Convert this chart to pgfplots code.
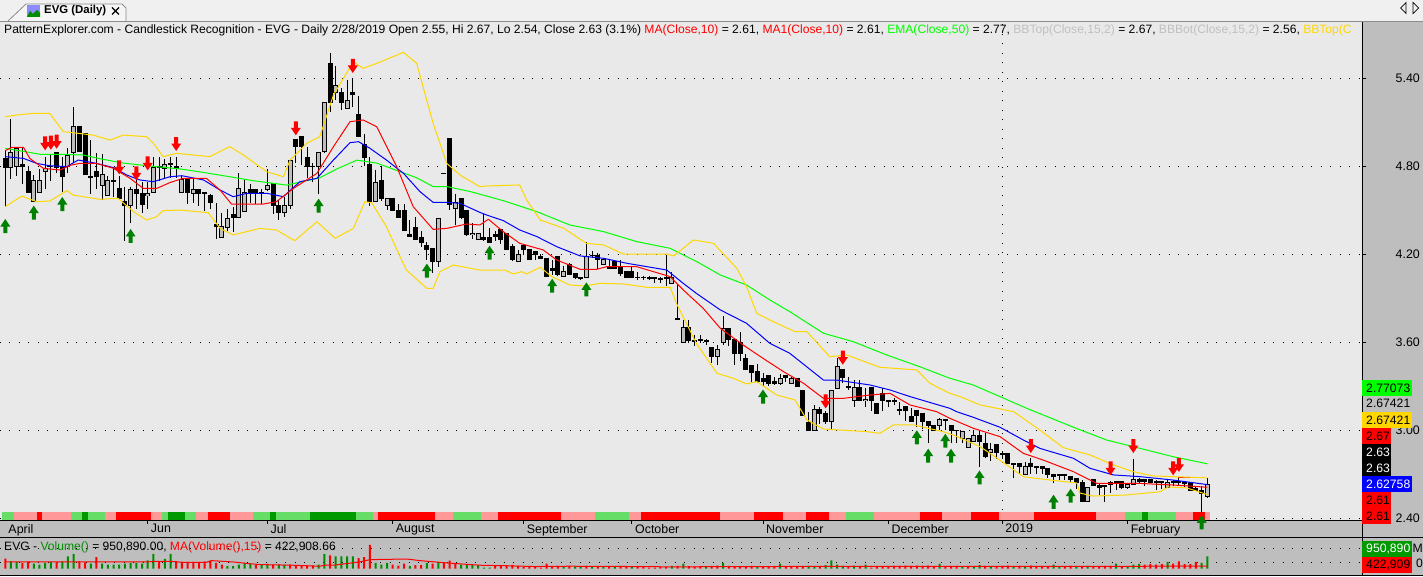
\documentclass[border=0pt]{standalone}
\usepackage{fontspec}
\setmainfont{Liberation Sans}
\usepackage{pgfplots}
\usepackage{pgfplotstable}
\pgfplotsset{compat=1.18}
\usetikzlibrary{calc}

\definecolor{chartbg}{RGB}{233,233,233}
\definecolor{panelbg}{RGB}{190,190,190}
\definecolor{topbg}{RGB}{240,240,240}
\definecolor{gold}{RGB}{255,215,0}
\definecolor{lime}{RGB}{0,255,0}
\definecolor{bandlg}{RGB}{102,221,102}
\definecolor{banddg}{RGB}{0,153,0}
\definecolor{bandpk}{RGB}{255,153,153}
\definecolor{arrowgreen}{RGB}{0,128,0}
\definecolor{volgreen}{RGB}{0,140,0}
\definecolor{bbgrey}{RGB}{192,192,192}

% 1 px of the reference = 1pt here
\pgfdeclareplotmark{uparr}{%
  \pgfpathmoveto{\pgfqpoint{0pt}{7pt}}\pgfpathlineto{\pgfqpoint{5pt}{-0.5pt}}%
  \pgfpathlineto{\pgfqpoint{2pt}{-0.5pt}}\pgfpathlineto{\pgfqpoint{2pt}{-7pt}}%
  \pgfpathlineto{\pgfqpoint{-2pt}{-7pt}}\pgfpathlineto{\pgfqpoint{-2pt}{-0.5pt}}%
  \pgfpathlineto{\pgfqpoint{-5pt}{-0.5pt}}\pgfpathclose\pgfusepathqfill}
\pgfdeclareplotmark{downarr}{%
  \pgfpathmoveto{\pgfqpoint{0pt}{-7pt}}\pgfpathlineto{\pgfqpoint{5pt}{0.5pt}}%
  \pgfpathlineto{\pgfqpoint{2pt}{0.5pt}}\pgfpathlineto{\pgfqpoint{2pt}{7pt}}%
  \pgfpathlineto{\pgfqpoint{-2pt}{7pt}}\pgfpathlineto{\pgfqpoint{-2pt}{0.5pt}}%
  \pgfpathlineto{\pgfqpoint{-5pt}{0.5pt}}\pgfpathclose\pgfusepathqfill}

% down days (black)
\pgfplotstableread{
x o h l c
0 4.85 4.91 4.52 4.79
3 4.81 4.92 4.68 4.80
4 4.76 4.80 4.62 4.62
8 4.80 4.88 4.70 4.80
9 4.89 4.89 4.75 4.79
10 4.80 4.86 4.62 4.73
13 5.07 5.07 4.90 4.90
14 5.02 5.02 4.74 4.74
15 4.73 4.98 4.61 4.72
16 4.76 4.89 4.64 4.73
19 4.70 4.78 4.59 4.70
20 4.65 4.73 4.58 4.58
21 4.56 4.66 4.29 4.53
23 4.64 4.73 4.51 4.61
24 4.61 4.69 4.48 4.54
27 4.80 4.86 4.70 4.79
29 4.82 4.86 4.72 4.81
30 4.80 4.86 4.72 4.78
32 4.71 4.71 4.54 4.62
34 4.64 4.64 4.53 4.61
35 4.62 4.62 4.49 4.61
36 4.60 4.61 4.51 4.55
37 4.40 4.55 4.30 4.39
40 4.47 4.52 4.35 4.45
43 4.64 4.68 4.55 4.62
44 4.64 4.64 4.54 4.62
45 4.62 4.64 4.54 4.61
47 4.68 4.68 4.47 4.53
48 4.53 4.57 4.43 4.48
51 4.98 4.98 4.82 4.93
52 5.00 5.00 4.81 4.93
53 4.86 4.93 4.72 4.80
54 4.80 4.82 4.69 4.80
57 5.50 5.57 5.17 5.23
59 5.30 5.33 5.18 5.23
61 5.30 5.39 5.20 5.29
62 5.15 5.28 5.00 5.00
63 4.95 5.02 4.80 4.86
64 4.81 4.86 4.53 4.56
66 4.70 4.80 4.56 4.58
68 4.58 4.58 4.50 4.50
69 4.50 4.54 4.45 4.45
70 4.50 4.54 4.36 4.36
71 4.33 4.43 4.32 4.32
72 4.38 4.45 4.30 4.30
73 4.31 4.36 4.25 4.28
74 4.26 4.28 4.16 4.23
75 4.24 4.24 4.07 4.15
77 4.75 4.75 4.75 4.75
78 4.99 4.99 4.50 4.54
80 4.58 4.58 4.44 4.45
81 4.50 4.50 4.32 4.33
84 4.31 4.47 4.29 4.30
85 4.31 4.38 4.28 4.28
86 4.33 4.36 4.29 4.32
87 4.37 4.37 4.27 4.30
88 4.34 4.34 4.23 4.23
89 4.25 4.27 4.15 4.16
91 4.26 4.26 4.20 4.23
92 4.23 4.23 4.16 4.16
93 4.22 4.22 4.16 4.20
94 4.18 4.20 4.17 4.17
95 4.17 4.17 4.05 4.05
96 4.10 4.16 4.06 4.09
97 4.18 4.18 4.05 4.06
99 4.13 4.14 4.06 4.06
100 4.07 4.07 4.03 4.04
101 4.04 4.04 4.02 4.03
103 4.19 4.22 4.17 4.19
104 4.19 4.21 4.10 4.16
106 4.11 4.16 4.10 4.10
107 4.15 4.15 4.10 4.10
108 4.11 4.16 4.05 4.07
109 4.08 4.08 4.04 4.04
110 4.08 4.12 4.04 4.04
111 4.04 4.08 4.02 4.04
112 4.04 4.05 4.02 4.04
113 4.04 4.05 4.02 4.03
114 4.04 4.04 4.00 4.03
115 4.03 4.04 4.00 4.03
116 4.04 4.19 3.98 4.03
118 3.76 3.99 3.76 3.76
120 3.70 3.75 3.59 3.61
121 3.61 3.65 3.57 3.61
122 3.62 3.65 3.59 3.61
123 3.61 3.62 3.58 3.61
124 3.56 3.56 3.46 3.50
127 3.69 3.69 3.57 3.62
128 3.62 3.62 3.44 3.52
129 3.60 3.67 3.47 3.52
130 3.49 3.52 3.41 3.41
131 3.44 3.44 3.33 3.39
132 3.40 3.45 3.32 3.33
133 3.35 3.39 3.30 3.33
134 3.37 3.37 3.30 3.32
135 3.33 3.36 3.31 3.32
137 3.37 3.37 3.33 3.36
139 3.35 3.35 3.30 3.30
140 3.27 3.27 3.10 3.10
141 3.05 3.12 3.00 3.00
143 3.14 3.16 3.04 3.11
144 3.11 3.13 3.04 3.06
147 3.41 3.41 3.32 3.36
148 3.30 3.36 3.27 3.29
150 3.29 3.34 3.20 3.20
152 3.29 3.29 3.13 3.20
153 3.18 3.18 3.11 3.11
154 3.25 3.29 3.13 3.20
155 3.20 3.20 3.16 3.20
156 3.20 3.22 3.17 3.20
157 3.14 3.19 3.10 3.13
158 3.16 3.16 3.06 3.13
159 3.09 3.15 3.06 3.06
160 3.13 3.13 3.02 3.10
161 3.11 3.11 3.01 3.06
162 3.06 3.06 2.91 3.03
163 3.03 3.03 3.00 3.00
165 3.07 3.07 3.00 3.07
166 3.03 3.03 2.91 3.00
167 3.00 3.00 2.91 3.00
171 2.96 3.00 2.75 2.92
172 2.91 2.98 2.81 2.82
174 2.90 2.90 2.80 2.85
175 2.84 2.86 2.80 2.83
176 2.84 2.84 2.77 2.77
177 2.77 2.77 2.67 2.77
178 2.77 2.77 2.70 2.75
180 2.77 2.81 2.70 2.75
181 2.75 2.75 2.70 2.75
182 2.75 2.75 2.70 2.74
183 2.74 2.74 2.67 2.70
184 2.70 2.70 2.64 2.68
185 2.70 2.70 2.66 2.69
186 2.70 2.70 2.66 2.69
187 2.68 2.68 2.64 2.66
188 2.67 2.67 2.60 2.64
189 2.64 2.66 2.51 2.51
191 2.66 2.66 2.62 2.62
192 2.62 2.64 2.56 2.61
193 2.62 2.62 2.51 2.62
194 2.64 2.65 2.57 2.63
195 2.65 2.65 2.59 2.64
196 2.65 2.65 2.60 2.61
199 2.66 2.67 2.64 2.65
200 2.66 2.66 2.62 2.65
201 2.66 2.66 2.64 2.64
202 2.65 2.66 2.59 2.64
203 2.65 2.65 2.60 2.64
205 2.65 2.66 2.62 2.64
206 2.65 2.68 2.62 2.64
207 2.64 2.65 2.61 2.64
208 2.64 2.64 2.59 2.59
209 2.60 2.62 2.59 2.59
210 2.59 2.62 2.44 2.57
}\downdays

% up days (grey)
\pgfplotstableread{
x o h l c
1 4.79 5.12 4.71 4.89
2 4.80 4.92 4.73 4.92
5 4.56 4.74 4.56 4.70
6 4.62 4.78 4.62 4.70
7 4.76 4.86 4.64 4.78
11 4.80 4.92 4.75 4.87
12 4.89 5.20 4.82 5.07
17 4.67 4.88 4.57 4.74
18 4.60 4.73 4.60 4.70
22 4.53 4.66 4.41 4.64
25 4.60 4.69 4.51 4.61
26 4.62 4.86 4.62 4.79
28 4.78 4.85 4.72 4.81
31 4.62 4.73 4.62 4.71
33 4.61 4.72 4.55 4.64
38 4.31 4.48 4.31 4.39
39 4.38 4.51 4.36 4.44
41 4.45 4.75 4.45 4.65
42 4.49 4.71 4.49 4.62
46 4.64 4.78 4.63 4.67
49 4.48 4.59 4.45 4.53
50 4.53 4.84 4.51 4.84
55 4.80 4.89 4.61 4.89
56 4.90 5.23 4.89 5.23
58 5.30 5.48 5.25 5.35
60 5.19 5.39 5.19 5.25
65 4.56 4.77 4.56 4.69
67 4.53 4.58 4.50 4.58
76 4.15 4.44 4.11 4.44
79 4.51 4.61 4.40 4.55
82 4.33 4.41 4.30 4.34
83 4.30 4.34 4.30 4.34
90 4.15 4.23 4.15 4.20
98 4.05 4.12 4.05 4.08
102 4.04 4.28 4.04 4.18
105 4.13 4.17 4.13 4.16
117 4.00 4.08 4.00 4.04
119 3.60 3.75 3.60 3.70
125 3.50 3.58 3.44 3.55
126 3.60 3.78 3.58 3.69
136 3.32 3.38 3.31 3.35
138 3.32 3.36 3.32 3.35
142 3.00 3.17 3.00 3.14
145 3.06 3.27 3.01 3.27
146 3.28 3.49 3.28 3.43
149 3.20 3.34 3.16 3.29
151 3.20 3.29 3.16 3.21
164 3.03 3.08 3.00 3.07
168 2.94 2.99 2.91 2.99
169 2.88 2.94 2.88 2.94
170 2.92 3.00 2.92 2.96
173 2.85 2.91 2.79 2.87
179 2.70 2.78 2.70 2.75
190 2.51 2.61 2.51 2.61
197 2.61 2.64 2.60 2.63
198 2.63 2.80 2.63 2.66
204 2.61 2.66 2.61 2.64
211 2.55 2.67 2.54 2.63
}\updays

% volume, thousands of shares
\pgfplotstableread{
x v
1 685
2 650
5 561
6 507
7 596
8 650
10 685
11 952
12 1095
15 561
17 561
18 507
19 507
20 507
21 561
22 596
23 596
24 561
25 739
26 1095
28 810
29 1095
39 418
40 418
41 507
42 596
43 561
45 525
46 543
48 507
49 507
55 507
56 1095
58 952
59 952
60 952
61 952
65 596
66 507
67 596
71 418
74 596
76 650
80 507
81 472
82 472
83 472
84 347
85 347
98 418
100 400
101 400
103 383
105 365
107 418
110 365
117 436
119 561
123 418
126 596
132 400
136 561
141 436
142 400
144 472
145 739
146 507
147 436
149 454
151 507
164 543
168 418
170 418
171 472
173 400
177 400
179 418
184 507
185 418
188 418
190 436
195 561
197 400
198 507
199 543
204 650
210 596
211 950.89
}\volup
\pgfplotstableread{
x v
0 828
3 596
4 650
9 632
13 685
14 632
16 917
27 685
30 685
31 650
32 650
33 650
34 650
35 685
36 721
37 596
38 507
44 507
47 507
50 507
51 454
52 454
53 454
54 454
57 1006
62 863
63 917
64 1575
68 507
69 454
70 561
72 472
73 472
75 561
77 596
78 721
79 543
86 418
87 454
88 472
89 490
90 436
91 383
92 383
93 365
94 347
95 561
96 400
97 436
99 418
102 436
104 383
106 400
108 400
109 400
111 383
112 365
113 347
114 347
115 383
116 383
118 436
120 418
121 400
122 400
124 436
125 454
127 436
128 400
129 418
130 400
131 436
133 400
134 418
135 436
137 365
138 400
139 418
140 400
143 365
148 418
150 418
152 347
153 365
154 400
155 418
156 436
157 436
158 454
159 436
160 454
161 436
162 454
163 418
165 418
166 436
167 436
169 436
172 436
174 418
175 436
176 454
178 436
180 454
181 418
182 436
183 418
186 418
187 436
189 400
191 418
192 418
193 436
194 436
196 418
200 507
201 525
202 507
203 525
205 561
206 685
207 525
208 525
209 650
}\voldown

% colour band, runs of bars
\pgfplotstableread{
a b
-0.5 1.5
11.5 13.5
14.5 17.5
27.5 28.5
31.5 33.5
43.5 46.5
47.5 53.5
61.5 64.5
78.5 83.5
103.5 109.5
147.5 152.5
196.5 199.5
200.5 205.5
}\bandlight
\pgfplotstableread{
a b
13.5 14.5
28.5 31.5
46.5 47.5
53.5 61.5
199.5 200.5
}\banddark
\pgfplotstableread{
a b
1.5 5.5
6.5 11.5
17.5 19.5
25.5 27.5
33.5 35.5
39.5 43.5
64.5 65.5
75.5 78.5
83.5 86.5
97.5 103.5
109.5 111.5
125.5 131.5
136.5 140.5
144.5 147.5
152.5 160.5
164.5 169.5
174.5 180.5
191.5 196.5
205.5 208.5
210.5 211.5
}\bandpink
\pgfplotstableread{
a b
5.5 6.5
19.5 25.5
35.5 39.5
65.5 75.5
86.5 97.5
111.5 125.5
131.5 136.5
140.5 144.5
160.5 164.5
169.5 174.5
180.5 191.5
208.5 210.5
}\bandred

\pgfplotsset{
  wick/.style={draw=none, mark=none, forget plot,
    error bars/.cd, y dir=both, y explicit, error mark=none,
    error bar style={draw=black, line width=1pt}},
  body/.style 2 args={draw=none, mark=none, forget plot,
    error bars/.cd, y dir=both, y explicit, error mark=none,
    error bar style={draw=#2, line width=#1}},
  run/.style={draw=none, mark=none, forget plot,
    error bars/.cd, x dir=both, x explicit, error mark=none,
    error bar style={draw=#1, line width=8pt}},
}

% value box on the right hand scale: top edge (px), width, fill, text colour, text
\newcommand{\valbox}[5]{%
  \fill[#3] (1362pt,{(576-#1)*1pt}) rectangle ({(1362+#2)*1pt},{(576-#1-15.5)*1pt});
  \node[anchor=west, inner sep=0pt, text=#4, font=\fontsize{12.2}{14}\selectfont]
    at (1366pt,{(576-#1-7.8)*1pt}) {#5};}

\begin{document}
\begin{tikzpicture}[x=1pt,y=1pt]
\path[use as bounding box] (0,0) rectangle (1423,576);
% window
\fill[topbg] (0,554) rectangle (1423,576);
\fill[chartbg] (0,56) rectangle (1362,554);
\fill[panelbg] (0,0) rectangle (1362,56);
\fill[panelbg] (1362,0) rectangle (1423,554);
\draw[black!45, line width=0.8pt] (0,555) -- (1423,555);
% tab
\filldraw[fill=white!96!black, draw=black!45, line width=0.8pt]
  (8,555) -- (26,572) -- (122,572) -- (126,568) -- (126,555);
\fill[blue!45!white] (27,559) rectangle (40,571);
\fill[green!55!black] (27,559) -- (30,565) -- (33,562) -- (37,566) -- (40,563) -- (40,559) -- cycle;
\node[anchor=west, inner sep=0pt, font=\fontsize{11.4}{14}\bfseries\selectfont] at (44,565) {EVG (Daily)};
\draw[line width=1.2pt] (112,561.5) -- (119,568.5) (112,568.5) -- (119,561.5);
\draw[line width=0.7pt] (1406,562.5) -- (1400.5,568) -- (1406,573.5) -- cycle;
\draw[line width=0.7pt] (1413,562.5) -- (1418.5,568) -- (1413,573.5) -- cycle;

\begin{axis}[
  at={(0pt,56pt)}, anchor=south west, scale only axis,
  width=1362pt, height=498pt,
  xmin=-0.93, xmax=238.14, ymin=2.3866, ymax=5.782,
  clip=false,
  axis x line*=bottom, axis y line*=right,
  axis line style={-, black, line width=1pt},
  tick style={black, line width=1pt},
  tick align=outside, major tick length=4pt,
  tick label style={font=\fontsize{12.4}{14}\selectfont},
  xtick={25,46,68,91,110,133,155,175,197},
  xticklabels={Jun,Jul,August,September,October,November,December,2019,February},
  extra x ticks={0},
  extra x tick labels={April},
  extra x tick style={major tick length=0pt, xticklabel style={yshift=-4pt}},
  xticklabel style={anchor=north west, inner sep=0pt, xshift=3pt, yshift=0pt},
  ytick={2.4,3.0,3.6,4.2,4.8,5.4},
  yticklabel style={anchor=east, inner sep=0pt, xshift=54pt,
    /pgf/number format/assume math mode=true,
    /pgf/number format/fixed, /pgf/number format/fixed zerofill,
    /pgf/number format/precision=2},
  ymajorgrids,
  y grid style={black, line width=1pt, dash pattern=on 1pt off 8.5pt},
]
% 2019 marker
\addplot[forget plot, black, line width=1pt, dash pattern=on 1pt off 8.5pt]
  coordinates {(175,2.39) (175,5.78)};
% colour band
\addplot[run=bandlg] table[x expr={(\thisrow{a}+\thisrow{b})/2}, y expr=2.414, x error expr={(\thisrow{b}-\thisrow{a})/2}] {\bandlight};
\addplot[run=banddg] table[x expr={(\thisrow{a}+\thisrow{b})/2}, y expr=2.414, x error expr={(\thisrow{b}-\thisrow{a})/2}] {\banddark};
\addplot[run=bandpk] table[x expr={(\thisrow{a}+\thisrow{b})/2}, y expr=2.414, x error expr={(\thisrow{b}-\thisrow{a})/2}] {\bandpink};
\addplot[run=red] table[x expr={(\thisrow{a}+\thisrow{b})/2}, y expr=2.414, x error expr={(\thisrow{b}-\thisrow{a})/2}] {\bandred};
% wicks
\addplot[wick] table[x=x, y expr={(\thisrow{h}+\thisrow{l})/2}, y error expr={(\thisrow{h}-\thisrow{l})/2}] {\downdays};
\addplot[wick] table[x=x, y expr={(\thisrow{h}+\thisrow{l})/2}, y error expr={(\thisrow{h}-\thisrow{l})/2}] {\updays};
% bodies
\addplot[body={5pt}{black}] table[x=x, y expr={(\thisrow{o}+\thisrow{c})/2}, y error expr={abs(\thisrow{o}-\thisrow{c})/2+0.0035}] {\downdays};
\addplot[body={5pt}{black}] table[x=x, y expr={(\thisrow{o}+\thisrow{c})/2}, y error expr={abs(\thisrow{o}-\thisrow{c})/2+0.0035}] {\updays};
\addplot[body={3pt}{panelbg}] table[x=x, y expr={(\thisrow{o}+\thisrow{c})/2}, y error expr={max(abs(\thisrow{o}-\thisrow{c})/2-0.0035,0)}] {\updays};
% EMA 50
\addplot[forget plot, lime, line width=1pt, line join=round] coordinates {
(0,4.92)(3.2,4.90)(6.1,4.88)(9.9,4.88)(13.7,4.875)(16.6,4.85)(20.7,4.82)(25.4,4.80)(30.7,4.78)(34.2,4.76)
(38.9,4.73)(43.5,4.70)(49.4,4.67)(51.7,4.69)(55.2,4.72)(58.2,4.78)(61.7,4.84)(65.2,4.82)(68.7,4.77)(72.2,4.72)
(75.1,4.66)(77.5,4.66)(81.6,4.626)(87.4,4.564)(93.3,4.489)(99.1,4.398)(105,4.353)(110.8,4.285)(116.7,4.239)
(121.4,4.148)(125.5,4.057)(130.1,3.989)(134.2,3.887)(137.7,3.807)(143.6,3.66)(148.8,3.603)(154.7,3.512)
(160.5,3.432)(165.8,3.353)(169.9,3.307)(174.6,3.228)(179.3,3.148)(187.5,3.019)(193.3,2.932)(199.2,2.875)
(205,2.818)(211,2.77)};
% blue average
\addplot[forget plot, blue, line width=1pt, line join=round] coordinates {
(0,4.864)(3.2,4.852)(5.5,4.818)(7.8,4.802)(10.8,4.796)(12.8,4.841)(16,4.818)(19,4.789)(21.3,4.739)(23.6,4.705)
(26,4.693)(28.9,4.727)(31,4.734)(34.8,4.705)(37.7,4.636)(40,4.591)(42.4,4.614)(45.9,4.614)(48.8,4.591)(51.7,4.693)
(54.7,4.716)(57.6,4.841)(60.5,4.959)(62,4.966)(64,4.921)(66.9,4.841)(69.9,4.75)(72.8,4.625)(75.1,4.552)(77.5,4.552)
(79.8,4.546)(83.3,4.484)(84.5,4.466)(87.4,4.428)(90.3,4.364)(93.3,4.319)(96.8,4.25)(100.9,4.187)(105,4.171)
(109.1,4.137)(112.6,4.114)(116.1,4.091)(119,4.0)(121.3,3.932)(125.5,3.819)(130.1,3.728)(134.2,3.591)(137.7,3.523)
(143.6,3.341)(145.9,3.341)(151.8,3.307)(155.3,3.273)(158.8,3.228)(165.8,3.148)(167,3.125)(169.9,3.087)(174.6,3.019)
(178.7,2.932)(181.6,2.875)(187.5,2.807)(190.4,2.739)(194.5,2.694)(199.2,2.682)(205,2.659)(211,2.628)};
% MA 10
\addplot[forget plot, red, line width=1pt, line join=round] coordinates {
(0,4.905)(1.1,4.927)(3.2,4.927)(4.3,4.852)(6.7,4.784)(9.6,4.773)(11.6,4.807)(13.1,4.818)(16,4.818)(19,4.784)
(21.9,4.716)(24.2,4.648)(26.6,4.648)(28.9,4.687)(31.2,4.716)(35.3,4.716)(37.7,4.636)(39.7,4.541)(45.3,4.541)
(47.6,4.557)(50.6,4.648)(54.7,4.75)(57.6,4.932)(60.5,5.102)(62.8,5.114)(65.2,5.068)(68.7,4.796)(71.6,4.523)
(75.1,4.368)(77.5,4.375)(81,4.405)(83.3,4.398)(84.8,4.437)(87.4,4.353)(90.3,4.273)(94.4,4.228)(96.8,4.159)
(100.9,4.096)(103.8,4.096)(105.6,4.114)(110.8,4.114)(116.7,4.046)(119,3.955)(122.5,3.83)(125.5,3.694)(129.5,3.58)
(133,3.489)(136.6,3.398)(140.1,3.319)(143.6,3.216)(147.1,3.216)(151.8,3.239)(155.3,3.25)(158.8,3.171)(163.5,3.125)
(165.8,3.08)(169.9,3.012)(174.6,2.955)(178.7,2.841)(182.2,2.795)(187.5,2.716)(191.6,2.636)(199.2,2.636)(205,2.625)
(211,2.61)};
\addplot[forget plot, red, line width=1pt] coordinates {(205.9,2.678)(209.7,2.678)};
% Bollinger top
\addplot[forget plot, gold, line width=1pt, line join=round] coordinates {
(0,5.136)(2,5.148)(4.9,5.159)(7.8,5.159)(10.2,5.034)(11.9,5.027)(15.4,5.011)(18.4,4.977)(20.7,5.011)(24.8,5.0)
(26,4.955)(27.7,4.864)(30.1,4.887)(33,4.875)(35.9,4.864)(39.4,4.932)(41.8,4.875)(45.9,4.761)(48.8,4.727)(50,4.841)
(52.9,4.955)(55.2,5.0)(57.6,5.284)(61.1,5.511)(62.8,5.466)(65.2,5.5)(69.9,5.575)(72.2,5.5)(75.1,5.091)(77.5,4.818)
(79.8,4.739)(83.3,4.659)(84.5,4.664)(90.3,4.671)(91.5,4.569)(93.9,4.432)(98,4.376)(102,4.273)(105,4.262)(108.5,4.2)
(116.1,4.2)(117.3,4.187)(120.8,4.296)(124.3,4.273)(128.4,4.103)(130.1,3.978)(131.9,3.796)(134.2,3.75)(138.6,3.671)
(140.7,3.671)(144.7,3.5)(147.7,3.512)(153.5,3.428)(160,3.41)(162.3,3.319)(165.8,3.25)(167.6,3.228)(171.1,3.171)
(177,3.125)(181.6,3.0)(185.7,2.88)(190.4,2.83)(194.5,2.762)(198,2.716)(201.5,2.687)(211,2.674)};
% Bollinger bottom
\addplot[forget plot, gold, line width=1pt, line join=round] coordinates {
(0,4.523)(2.9,4.595)(5.5,4.557)(7.8,4.561)(10.8,4.632)(11.9,4.602)(16.6,4.573)(19.8,4.58)(22.5,4.489)(24.8,4.432)
(26.6,4.455)(27.7,4.496)(30.7,4.5)(35.6,4.482)(37.7,4.375)(40,4.33)(44.7,4.375)(47.6,4.364)(50.8,4.291)(54.7,4.42)
(57.9,4.307)(61.1,4.375)(63.1,4.557)(64.3,4.55)(66.9,4.386)(69.3,4.182)(70.4,4.091)(74,3.966)(75.1,3.966)(76.3,4.08)
(78.6,4.125)(83.3,4.091)(87.7,4.091)(89.2,4.064)(90.6,4.08)(91.5,4.064)(93.9,4.11)(95.9,4.046)(99.1,3.989)(101.7,3.982)
(104.4,4.0)(108.5,3.996)(112.6,3.973)(116.7,3.973)(117.8,3.864)(121.3,3.591)(124.9,3.387)(127.8,3.353)(130.1,3.314)
(131.9,3.33)(135.4,3.239)(138.6,3.205)(140.7,3.069)(143.6,3.007)(151.2,2.989)(153.5,2.978)(155.9,3.035)(159.4,3.035)
(164.6,2.989)(166.4,2.966)(171.1,2.887)(175.8,2.762)(178.7,2.682)(183.4,2.659)(188.1,2.639)(188.6,2.571)(190.9,2.55)
(196.7,2.557)(202.7,2.579)(204.1,2.612)(207.4,2.605)(211,2.56)};
% pattern arrows
\addplot[forget plot, only marks, mark=uparr, color=arrowgreen] coordinates {
(0,4.391)(5,4.482)(10,4.541)(22,4.323)(55,4.53)(74,4.087)(85,4.209)(96,3.984)(102,3.959)(133,3.228)
(160,2.95)(162,2.825)(165,2.927)(166,2.825)(171,2.677)(184,2.511)(187,2.552)(210,2.371)};
\addplot[forget plot, only marks, mark=downarr, color=red] coordinates {
(7,4.955)(8,4.959)(9,4.966)(20,4.791)(23,4.75)(25,4.818)(30,4.95)(51,5.057)(61,5.482)(144,3.195)(147,3.493)
(180,2.891)(194,2.739)(198,2.891)(205,2.739)(206,2.762)};
\end{axis}

% volume pane
\begin{axis}[
  at={(0pt,7.5pt)}, anchor=south west, scale only axis,
  width=1362pt, height=30.5pt,
  xmin=-0.93, xmax=238.14, ymin=294, ymax=1950,
  clip=false,
  hide x axis, axis y line*=right,
  axis line style={draw=none},
  tick style={black, line width=1pt},
  tick align=outside, major tick length=4pt,
  tick label style={font=\fontsize{12.2}{14}\selectfont},
  ytick={596,1380}, yticklabels={0,M},
  yticklabel style={anchor=east, inner sep=0pt, xshift=57pt},
  ymajorgrids,
  y grid style={black, line width=1pt, dash pattern=on 1pt off 8.5pt},
]
\addplot[forget plot, ybar, bar width=2pt, bar shift=0pt, fill=volgreen, draw=none] table[x=x, y=v] {\volup};
\addplot[forget plot, ybar, bar width=2pt, bar shift=0pt, fill=red, draw=none] table[x=x, y=v] {\voldown};
\addplot[forget plot, red, line width=1pt] coordinates {
(0,650)(16,650)(25,650)(26,685)(29,685)(31,632)(35.3,632)(36.2,721)(40,650)(42.7,561)(44.7,507)(50.5,472)(55.2,418)
(56.1,472)(57.6,472)(62.2,650)(64,775)(70.5,810)(72.8,721)(77.5,596)(83.3,472)(87,450)(93,400)(99,418)(111,400)
(117,383)(130,400)(150,410)(170,410)(190,410)(211,422.9)};
\end{axis}

% frame lines
\draw[black, line width=1pt] (0,38.5) -- (1423,38.5);
\draw[black, line width=1pt] (0,1) -- (1423,1);
\draw[black, line width=1pt] (1362,0) -- (1362,554);

% titles
\begin{scope}
\clip (0,540) rectangle (1360,554);
\node[anchor=west, inner sep=0pt, font=\fontsize{12.1}{14}\selectfont] at (4,546) {PatternExplorer.com - Candlestick Recognition - EVG - Daily 2/28/2019 Open 2.55, Hi 2.67, Lo 2.54, Close 2.63 (3.1\%) \textcolor{red}{MA(Close,10)} = 2.61, \textcolor{red}{MA1(Close,10)} = 2.61, \textcolor{lime}{EMA(Close,50)} = 2.77, \textcolor{bbgrey}{BBTop(Close,15,2)} = 2.67, \textcolor{bbgrey}{BBBot(Close,15,2)} = 2.56, \textcolor{gold}{BBTop(C}};
\end{scope}
\node[anchor=west, inner sep=0pt, font=\fontsize{12.1}{14}\selectfont] at (4,29) {EVG - \textcolor{volgreen}{Volume()} = 950,890.00, \textcolor{red}{MA(Volume(),15)} = 422,908.66};

% last values on the scale
\valbox{380}{50}{lime}{black}{2.77073}
\node[anchor=west, inner sep=0pt, font=\fontsize{12.2}{14}\selectfont] at (1366,{576-403.5}) {2.67421};
\valbox{412}{50}{gold}{black}{2.67421}
\valbox{428}{29}{red}{black}{2.67}
\valbox{444}{29}{black}{white}{2.63}
\valbox{460}{29}{black}{white}{2.63}
\valbox{476}{50}{blue}{white}{2.62758}
\valbox{492}{29}{red}{black}{2.61}
\valbox{508}{29}{red}{black}{2.61}
\valbox{541}{50}{banddg}{white}{950,890}
\valbox{557}{50}{red}{black}{422,909}
\end{tikzpicture}
\end{document}
